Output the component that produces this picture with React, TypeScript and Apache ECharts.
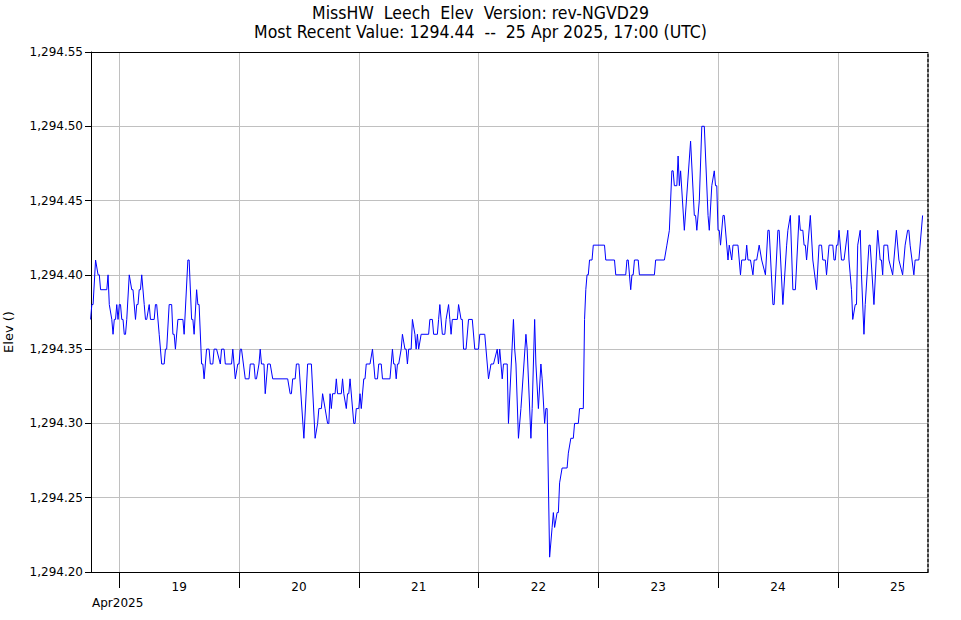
import React, { useEffect, useRef } from "react";
import * as echarts from "echarts";

const titleLines = [
  "MissHW  Leech  Elev  Version: rev-NGVD29",
  "Most Recent Value: 1294.44  --  25 Apr 2025, 17:00 (UTC)",
];
const yAxisName = "Elev ()";
const monthLabel = "Apr2025";

// readings are [quarter-hours after 18 Apr 2025 18:00 UTC, elevation]
const seriesOriginUtc = Date.UTC(2025, 3, 18, 18, 0);
const axisStartUtc = Date.UTC(2025, 3, 18, 18, 20);
const axisEndUtc = Date.UTC(2025, 3, 25, 18, 5);
const dayNumbers = [19, 20, 21, 22, 23, 24, 25];

const yMin = 1294.2;
const yMax = 1294.55;
const yStep = 0.05;

const readings: [number, number][] = [
  [1, 1294.37], [2, 1294.38], [3, 1294.38], [5, 1294.41], [7, 1294.40], [8, 1294.40], [9, 1294.39], [14, 1294.39],
  [15, 1294.40], [16, 1294.38], [18, 1294.37], [19, 1294.36], [20, 1294.37], [21, 1294.37], [22, 1294.38], [23, 1294.37],
  [24, 1294.38], [25, 1294.38], [26, 1294.37], [27, 1294.37], [28, 1294.36], [29, 1294.36], [30, 1294.37], [32, 1294.40],
  [34, 1294.39], [35, 1294.39], [37, 1294.37], [38, 1294.38], [39, 1294.38], [40, 1294.39], [41, 1294.39], [42, 1294.40],
  [44, 1294.38], [45, 1294.37], [46, 1294.37], [48, 1294.38], [49, 1294.37], [52, 1294.37], [53, 1294.38], [54, 1294.38],
  [56, 1294.36], [58, 1294.34], [60, 1294.34], [61, 1294.35], [62, 1294.35], [64, 1294.38], [66, 1294.38], [67, 1294.36],
  [68, 1294.36], [69, 1294.35], [71, 1294.37], [75, 1294.37], [76, 1294.36], [79, 1294.41], [80, 1294.41], [82, 1294.37],
  [83, 1294.37], [84, 1294.36], [86, 1294.39], [87, 1294.38], [88, 1294.38], [90, 1294.34], [91, 1294.34], [92, 1294.33],
  [94, 1294.35], [96, 1294.35], [97, 1294.34], [99, 1294.34], [100, 1294.35], [102, 1294.35], [105, 1294.34], [106, 1294.35],
  [108, 1294.35], [109, 1294.34], [114, 1294.34], [115, 1294.35],
  [117, 1294.33], [119, 1294.34], [120, 1294.34], [121, 1294.35], [122, 1294.35], [125, 1294.33], [128, 1294.33], [129, 1294.34],
  [132, 1294.34], [133, 1294.33], [134, 1294.33], [136, 1294.34], [137, 1294.35], [138, 1294.34], [140, 1294.34], [141, 1294.32],
  [143, 1294.34], [145, 1294.34], [147, 1294.33], [159, 1294.33], [161, 1294.32], [162, 1294.32], [163, 1294.33], [165, 1294.33],
  [166, 1294.34], [168, 1294.34], [172, 1294.29], [175, 1294.34], [178, 1294.34], [181, 1294.29], [183, 1294.30], [184, 1294.31],
  [186, 1294.31], [187, 1294.32], [189, 1294.31], [191, 1294.30], [192, 1294.30], [193, 1294.32], [194, 1294.31], [195, 1294.32],
  [197, 1294.32], [198, 1294.33], [199, 1294.32], [202, 1294.32], [203, 1294.33], [204, 1294.32], [206, 1294.31], [207, 1294.32],
  [208, 1294.32], [209, 1294.33], [212, 1294.30], [213, 1294.30], [214, 1294.31], [216, 1294.31], [217, 1294.32], [218, 1294.31],
  [220, 1294.33], [221, 1294.33], [222, 1294.34],
  [225, 1294.34], [227, 1294.35], [228, 1294.34], [229, 1294.33], [231, 1294.33], [232, 1294.34], [234, 1294.34], [235, 1294.33],
  [241, 1294.33], [243, 1294.35], [244, 1294.34], [245, 1294.34], [246, 1294.33], [247, 1294.34], [248, 1294.34], [250, 1294.35],
  [251, 1294.36], [253, 1294.35], [254, 1294.35], [255, 1294.34], [256, 1294.35], [258, 1294.35], [259, 1294.37], [261, 1294.36],
  [262, 1294.35], [263, 1294.36], [264, 1294.35], [266, 1294.36], [272, 1294.36], [273, 1294.37], [275, 1294.37], [276, 1294.36],
  [279, 1294.36], [280, 1294.37], [281, 1294.38], [283, 1294.36], [285, 1294.36], [286, 1294.37], [288, 1294.38], [289, 1294.37],
  [290, 1294.36], [291, 1294.37], [295, 1294.37], [296, 1294.38], [298, 1294.37], [299, 1294.37], [300, 1294.35], [302, 1294.35],
  [304, 1294.37], [307, 1294.37], [309, 1294.35], [312, 1294.35], [313, 1294.36], [317, 1294.36], [320, 1294.33], [322, 1294.34],
  [324, 1294.34], [327, 1294.35], [328, 1294.34], [329, 1294.35], [331, 1294.33],
  [332, 1294.34], [335, 1294.34], [336, 1294.30], [340, 1294.37], [341, 1294.35], [342, 1294.34], [344, 1294.29], [346, 1294.31],
  [350, 1294.36], [351, 1294.35], [354, 1294.29], [355, 1294.31], [357, 1294.37], [358, 1294.34], [360, 1294.31], [362, 1294.34],
  [363, 1294.33], [365, 1294.30], [366, 1294.31], [367, 1294.31], [369, 1294.21], [371, 1294.23], [372, 1294.24], [373, 1294.23],
  [375, 1294.24], [376, 1294.24], [377, 1294.26], [379, 1294.27], [383, 1294.27], [384, 1294.28], [386, 1294.29], [388, 1294.29],
  [389, 1294.30], [392, 1294.30], [393, 1294.31], [396, 1294.31], [397, 1294.37], [398, 1294.39], [399, 1294.40], [400, 1294.40],
  [401, 1294.41], [403, 1294.41], [404, 1294.42],
  [413, 1294.42], [414, 1294.41], [421, 1294.41], [422, 1294.40], [430, 1294.40], [431, 1294.41], [432, 1294.41], [434, 1294.39],
  [435, 1294.40], [436, 1294.40], [437, 1294.41], [440, 1294.41], [441, 1294.40], [453, 1294.40], [454, 1294.41], [461, 1294.41],
  [463, 1294.42], [465, 1294.43], [467, 1294.47], [468, 1294.47], [469, 1294.46], [471, 1294.46], [472, 1294.48], [473, 1294.46],
  [474, 1294.47], [477, 1294.43], [482, 1294.49], [485, 1294.44], [486, 1294.44], [487, 1294.43], [489, 1294.45], [491, 1294.50],
  [493, 1294.50], [496, 1294.44], [497, 1294.43], [499, 1294.46], [501, 1294.47], [502, 1294.46], [503, 1294.46], [504, 1294.43],
  [505, 1294.43], [506, 1294.42], [508, 1294.44], [509, 1294.44],
  [512, 1294.41], [513, 1294.42], [515, 1294.41], [516, 1294.42], [520, 1294.42], [522, 1294.40], [523, 1294.41], [526, 1294.41],
  [527, 1294.42], [528, 1294.41], [530, 1294.41], [532, 1294.40], [533, 1294.41], [535, 1294.41], [537, 1294.42], [539, 1294.41],
  [542, 1294.40], [544, 1294.43], [545, 1294.43], [548, 1294.38], [549, 1294.38], [552, 1294.43], [553, 1294.43], [556, 1294.38],
  [559, 1294.42], [560, 1294.43], [562, 1294.44], [564, 1294.39], [566, 1294.39], [569, 1294.44], [570, 1294.43], [572, 1294.43],
  [573, 1294.42], [574, 1294.42], [575, 1294.41], [578, 1294.44], [580, 1294.41], [583, 1294.39], [585, 1294.42], [587, 1294.42],
  [588, 1294.41], [590, 1294.41], [591, 1294.40], [593, 1294.42], [596, 1294.42], [597, 1294.41], [598, 1294.41], [599, 1294.42],
  [600, 1294.42], [601, 1294.43], [603, 1294.41], [605, 1294.41], [608, 1294.43], [609, 1294.41], [611, 1294.39], [612, 1294.37],
  [614, 1294.38], [615, 1294.38], [616, 1294.42], [618, 1294.43], [619, 1294.40], [621, 1294.36], [622, 1294.38], [625, 1294.42],
  [626, 1294.42], [629, 1294.38], [632, 1294.43], [634, 1294.41], [635, 1294.41], [636, 1294.40], [637, 1294.42], [640, 1294.42],
  [641, 1294.41], [644, 1294.40], [645, 1294.41], [647, 1294.43], [649, 1294.41], [652, 1294.40], [654, 1294.42], [656, 1294.43],
  [657, 1294.43], [658, 1294.42], [661, 1294.40], [662, 1294.41], [665, 1294.41], [668, 1294.44],
];

const QUARTER_MS = 15 * 60 * 1000;

export default function App() {
  const ref = useRef<HTMLDivElement>(null);
  useEffect(() => {
    if (!ref.current) return;
    document.body.style.margin = "0";
    const chart = echarts.init(ref.current, undefined, { renderer: "svg" });
    const font = "DejaVu Sans";
    const data = readings.map(([q, v]) => [seriesOriginUtc + q * QUARTER_MS, v]);
    const midnights = dayNumbers.map((d) => Date.UTC(2025, 3, d));
    const noons = dayNumbers.map((d) => Date.UTC(2025, 3, d, 12));
    const fmtY = (v: number) =>
      v.toLocaleString("en-US", { minimumFractionDigits: 2, maximumFractionDigits: 2 });
    chart.setOption({
      animation: false,
      backgroundColor: "#ffffff",
      title: titleLines.map((t, i) => ({
        text: t,
        left: "center",
        top: 4 + i * 19,
        padding: 0,
        textStyle: {
          fontFamily: "DejaVu Sans Condensed",
          fontSize: 17.5,
          fontWeight: "normal",
          color: "#000000",
          lineHeight: 18,
        },
      })),
      grid: { left: 91, right: 33, top: 52, bottom: 48 },
      xAxis: [
        {
          type: "value",
          min: axisStartUtc,
          max: axisEndUtc,
          axisLine: { show: true, onZero: false, lineStyle: { color: "#000000", width: 1 } },
          axisTick: { show: true, customValues: midnights, length: 16, lineStyle: { color: "#000000" } },
          splitLine: { show: true, lineStyle: { color: "#c0c0c0", width: 1 } },
          axisLabel: {
            customValues: noons,
            formatter: (v: number) => String(new Date(v).getUTCDate()),
            color: "#000000",
            fontFamily: font,
            fontSize: 12,
            margin: 9,
          },
        },
        {
          type: "value",
          position: "top",
          min: 0,
          max: 1,
          axisLine: { show: true, onZero: false, lineStyle: { color: "#000000", width: 1 } },
          axisTick: { show: false },
          axisLabel: { show: false },
          splitLine: { show: false },
        },
      ],
      yAxis: [
        {
          type: "value",
          min: yMin,
          max: yMax,
          interval: yStep,
          axisLine: { show: true, onZero: false, lineStyle: { color: "#000000", width: 1 } },
          axisTick: { show: true, length: 6, lineStyle: { color: "#000000" } },
          splitLine: { show: true, lineStyle: { color: "#c0c0c0", width: 1 } },
          axisLabel: { formatter: fmtY, color: "#000000", fontFamily: font, fontSize: 12, margin: 8 },
        },
        {
          type: "value",
          position: "right",
          min: 0,
          max: 1,
          axisLine: { show: true, onZero: false, lineStyle: { color: "#000000", width: 1.5, type: [3, 2] } },
          axisTick: { show: false },
          axisLabel: { show: false },
          splitLine: { show: false },
        },
      ],
      series: [
        {
          type: "line",
          xAxisIndex: 0,
          yAxisIndex: 0,
          data,
          symbol: "none",
          showSymbol: false,
          lineStyle: { color: "#0000ff", width: 1 },
          itemStyle: { color: "#0000ff" },
        },
      ],
      graphic: [
        {
          type: "text",
          left: 92,
          top: 597,
          style: { text: monthLabel, font: `12px "${font}"`, fill: "#000000" },
        },
        {
          type: "text",
          x: 8,
          y: 332,
          rotation: Math.PI / 2,
          style: {
            text: yAxisName,
            font: `13px "${font}"`,
            fill: "#000000",
            align: "center",
            verticalAlign: "middle",
          },
        },
      ],
    });
    return () => chart.dispose();
  }, []);
  return (
    <div
      ref={ref}
      style={{ position: "absolute", left: 0, top: 0, width: 961, height: 620 }}
    />
  );
}
